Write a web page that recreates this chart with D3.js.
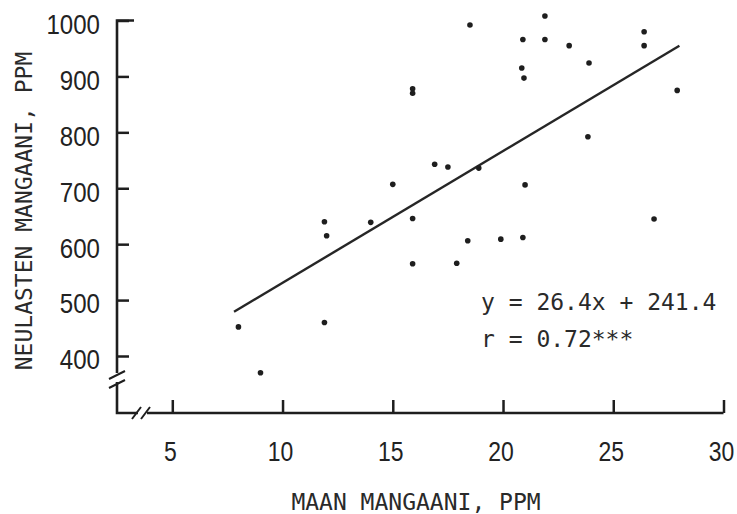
<!DOCTYPE html>
<html>
<head>
<meta charset="utf-8">
<script src="https://cdn.jsdelivr.net/npm/d3@7"></script>
<style>
  body { margin: 0; background: #fff; }
  .tick text { font-family: "Liberation Sans", "DejaVu Sans", sans-serif; font-size: 28px; fill: #222; }
  .mono { font-family: "DejaVu Sans Mono", "Liberation Mono", monospace; font-size: 23px; fill: #2a2a2a; }
</style>
</head>
<body>
<script>
// soil Mn (x) vs needle Mn (y), ppm
var maanMn    = [8.0, 9.0, 11.9, 12.0, 11.9, 14.0, 15.0, 15.9, 15.9, 15.9, 15.9, 16.9, 17.5, 17.9, 18.4, 18.5,
                 18.9, 19.9, 20.85, 20.95, 20.9, 20.9, 21.0, 21.9, 21.9, 23.0, 23.9, 23.85, 26.4, 26.4, 26.85, 27.9];
var neulasMn  = [452, 370, 640, 615, 460, 639, 707, 878, 870, 646, 565, 743, 738, 566, 606, 992,
                 736, 609, 915, 897, 966, 612, 706, 1008, 966, 955, 924, 792, 980, 955, 645, 875];

var fitX = [7.8, 28.0];
var fitY = [479, 955];

var xTicks = [5, 10, 15, 20, 25, 30];
var yTicks = [400, 500, 600, 700, 800, 900, 1000];

var xTitle = "MAAN MANGAANI, PPM";
var yTitle = "NEULASTEN MANGAANI, PPM";
var eqText = "y = 26.4x + 241.4";
var rText  = "r = 0.72***";

var width = 737, height = 514;
var ink = "#1e1e1e";

var svg = d3.select("body").append("svg")
  .attr("width", width)
  .attr("height", height);

var x = d3.scaleLinear().domain([5, 30]).range([172.3, 723.5]);
var y = d3.scaleLinear().domain([400, 1000]).range([356, 20.5]);

var axX = 117, axY = 413;

// y axis ticks (inward), labels squeezed horizontally like the original narrow type
var sy = 0.86;
var gy = svg.append("g")
  .attr("transform", "translate(" + axX + ",0)")
  .call(d3.axisLeft(y).tickValues(yTicks).tickFormat(d3.format("d")).tickSize(-12));
gy.select(".domain").remove();
gy.selectAll(".tick line").attr("stroke", ink).attr("stroke-width", 2.5);
gy.selectAll(".tick text")
  .attr("x", -17 / sy)
  .attr("dy", "0.46em")
  .attr("transform", "scale(" + sy + ",1)");

// x axis ticks (inward)
var sx = 0.82;
var gx = svg.append("g")
  .attr("transform", "translate(0," + axY + ")")
  .call(d3.axisBottom(x).tickValues(xTicks).tickFormat(d3.format("d")).tickSize(-13));
gx.select(".domain").remove();
gx.selectAll(".tick line").attr("stroke", ink).attr("stroke-width", 2.5);
gx.selectAll(".tick text")
  .attr("y", 48).attr("dy", null)
  .attr("x", -2.5 / sx)
  .attr("transform", "scale(" + sx + ",1)");

// axis lines with breaks
var axisPath = d3.path();
axisPath.moveTo(axX + 17, y(1000));
axisPath.lineTo(axX, y(1000));
axisPath.lineTo(axX, 373);
axisPath.moveTo(axX, 382);
axisPath.lineTo(axX, axY);
axisPath.lineTo(138, axY);
axisPath.moveTo(147, axY);
axisPath.lineTo(x(30), axY);
svg.append("path")
  .attr("d", axisPath.toString())
  .attr("fill", "none")
  .attr("stroke", ink)
  .attr("stroke-width", 2.6);

var brk = d3.path();
brk.moveTo(axX - 8, 379); brk.lineTo(axX + 8, 371);
brk.moveTo(axX - 8, 388); brk.lineTo(axX + 8, 380);
brk.moveTo(132, axY + 6); brk.lineTo(141, axY - 6);
brk.moveTo(141, axY + 6); brk.lineTo(150, axY - 6);
svg.append("path")
  .attr("d", brk.toString())
  .attr("fill", "none")
  .attr("stroke", ink)
  .attr("stroke-width", 2);

// regression line
svg.append("path")
  .datum(d3.zip(fitX, fitY))
  .attr("d", d3.line().x(function(d) { return x(d[0]); }).y(function(d) { return y(d[1]); }))
  .attr("fill", "none")
  .attr("stroke", "#262626")
  .attr("stroke-width", 2.4);

// points
svg.append("g").selectAll("circle")
  .data(d3.zip(maanMn, neulasMn))
  .join("circle")
  .attr("cx", function(d) { return x(d[0]); })
  .attr("cy", function(d) { return y(d[1]); })
  .attr("r", 2.8)
  .attr("fill", ink);

// titles and annotation
svg.append("text").attr("class", "mono")
  .attr("x", 416).attr("y", 510)
  .attr("text-anchor", "middle")
  .text(xTitle);

svg.append("text").attr("class", "mono")
  .attr("transform", "translate(32,211) rotate(-90)")
  .attr("text-anchor", "middle")
  .text(yTitle);

svg.append("text").attr("class", "mono")
  .attr("x", 481).attr("y", 310)
  .text(eqText);

svg.append("text").attr("class", "mono")
  .attr("x", 481).attr("y", 347)
  .text(rText);
</script>
</body>
</html>
